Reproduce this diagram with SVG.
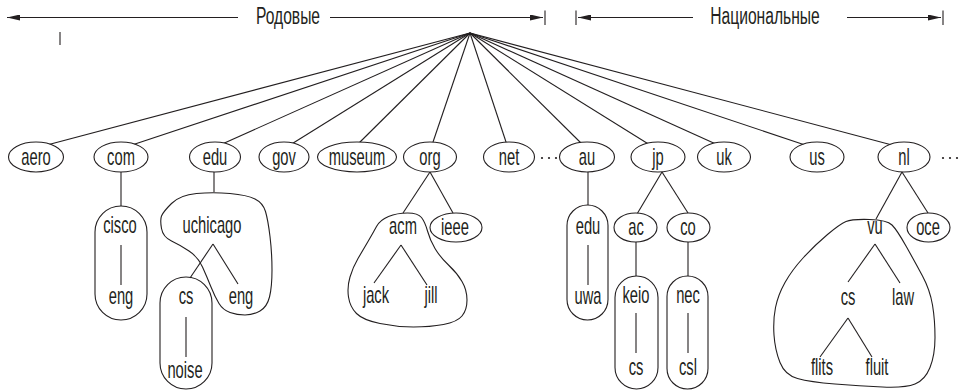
<svg xmlns="http://www.w3.org/2000/svg" width="960" height="391" viewBox="0 0 960 391">
<defs>
<style>
.ln{stroke:#231f20;stroke-width:1.1;fill:none}
.nd{fill:#fff;stroke:#231f20;stroke-width:1.1}
.bl{fill:none;stroke:#231f20;stroke-width:1.1}
.t{font-family:"Liberation Sans",Arial,sans-serif;font-size:23px;fill:#231f20;text-anchor:middle}
.dot{fill:#231f20}
</style>
<marker id="ah" viewBox="0 0 13 6" refX="13" refY="3" markerWidth="13" markerHeight="6" orient="auto" markerUnits="userSpaceOnUse"><path d="M0,0 L13,3 L0,6 z" fill="#231f20"/></marker>
</defs>
<rect width="960" height="391" fill="#fff"/>

<g id="header">
<line class="ln" x1="238" y1="17.5" x2="7" y2="17.5" marker-end="url(#ah)"/>
<text class="t" transform="translate(288,24) scale(0.68,1)">Родовые</text>
<line class="ln" x1="330" y1="17.5" x2="543" y2="17.5" marker-end="url(#ah)"/>
<line class="ln" x1="545" y1="10.5" x2="545" y2="25"/>
<line class="ln" x1="576" y1="10.5" x2="576" y2="25"/>
<line class="ln" x1="693" y1="17.5" x2="578" y2="17.5" marker-end="url(#ah)"/>
<text class="t" transform="translate(765,24) scale(0.68,1)">Национальные</text>
<line class="ln" x1="847" y1="17.5" x2="941" y2="17.5" marker-end="url(#ah)"/>
<line class="ln" x1="943" y1="10.5" x2="943" y2="25"/>
<line class="ln" x1="60" y1="32" x2="60" y2="45"/>
</g>

<g id="connectors">
<line class="ln" x1="470" y1="33" x2="47" y2="145"/>
<line class="ln" x1="470" y1="33" x2="132" y2="145"/>
<line class="ln" x1="470" y1="33" x2="220" y2="145"/>
<line class="ln" x1="470" y1="33" x2="290" y2="145"/>
<line class="ln" x1="470" y1="33" x2="357" y2="145"/>
<line class="ln" x1="470" y1="33" x2="432" y2="145"/>
<line class="ln" x1="470" y1="33" x2="507" y2="145"/>
<line class="ln" x1="470" y1="33" x2="583" y2="145"/>
<line class="ln" x1="470" y1="33" x2="650" y2="145"/>
<line class="ln" x1="470" y1="33" x2="718" y2="145"/>
<line class="ln" x1="470" y1="33" x2="805" y2="145"/>
<line class="ln" x1="470" y1="33" x2="892" y2="145"/>
<line class="ln" x1="121" y1="172" x2="121" y2="206"/>
<line class="ln" x1="121" y1="245" x2="121" y2="285"/>
<line class="ln" x1="214" y1="172" x2="214" y2="192"/>
<line class="ln" x1="213" y1="244" x2="190" y2="278"/>
<line class="ln" x1="213" y1="244" x2="238" y2="284"/>
<line class="ln" x1="186" y1="317" x2="186" y2="357"/>
<line class="ln" x1="430" y1="172" x2="403" y2="213"/>
<line class="ln" x1="430" y1="172" x2="453" y2="213"/>
<line class="ln" x1="401" y1="245" x2="374" y2="283"/>
<line class="ln" x1="401" y1="245" x2="427" y2="285"/>
<line class="ln" x1="588" y1="172" x2="588" y2="205"/>
<line class="ln" x1="588" y1="245" x2="588" y2="285"/>
<line class="ln" x1="662" y1="172" x2="637" y2="214"/>
<line class="ln" x1="662" y1="172" x2="688" y2="213"/>
<line class="ln" x1="636" y1="242" x2="636" y2="276"/>
<line class="ln" x1="636" y1="313" x2="636" y2="353"/>
<line class="ln" x1="688" y1="242" x2="688" y2="276"/>
<line class="ln" x1="688" y1="313" x2="688" y2="353"/>
<line class="ln" x1="902" y1="172" x2="876" y2="219"/>
<line class="ln" x1="902" y1="172" x2="928" y2="213"/>
<line class="ln" x1="875" y1="244" x2="848" y2="282"/>
<line class="ln" x1="875" y1="244" x2="900" y2="283"/>
<line class="ln" x1="848" y1="318" x2="820" y2="357"/>
<line class="ln" x1="848" y1="318" x2="872" y2="357"/>
</g>

<g id="n-aero"><ellipse class="nd" cx="36" cy="157" rx="27.5" ry="15"/><text class="t" transform="translate(36,165) scale(0.64,1)">aero</text></g>
<g id="n-com"><ellipse class="nd" cx="121" cy="157" rx="27" ry="15"/><text class="t" transform="translate(121,165) scale(0.64,1)">com</text></g>
<g id="n-edu"><ellipse class="nd" cx="215" cy="157" rx="25.5" ry="15"/><text class="t" transform="translate(215,165) scale(0.64,1)">edu</text></g>
<g id="n-gov"><ellipse class="nd" cx="284" cy="157" rx="25" ry="15"/><text class="t" transform="translate(284,165) scale(0.64,1)">gov</text></g>
<g id="n-museum"><ellipse class="nd" cx="357" cy="157" rx="39.5" ry="15"/><text class="t" transform="translate(357,165) scale(0.64,1)">museum</text></g>
<g id="n-org"><ellipse class="nd" cx="430" cy="157" rx="26.5" ry="15"/><text class="t" transform="translate(430,165) scale(0.64,1)">org</text></g>
<g id="n-net"><ellipse class="nd" cx="509" cy="157" rx="25.5" ry="15"/><text class="t" transform="translate(509,165) scale(0.64,1)">net</text></g>
<g id="dots1"><circle class="dot" cx="542" cy="158" r="1.1"/><circle class="dot" cx="549" cy="158" r="1.1"/><circle class="dot" cx="556" cy="158" r="1.1"/></g>
<g id="n-au"><ellipse class="nd" cx="587" cy="157" rx="27.5" ry="15"/><text class="t" transform="translate(587,165) scale(0.64,1)">au</text></g>
<g id="n-jp"><ellipse class="nd" cx="658" cy="157" rx="27" ry="15"/><text class="t" transform="translate(658,165) scale(0.64,1)">jp</text></g>
<g id="n-uk"><ellipse class="nd" cx="724" cy="157" rx="26.5" ry="15"/><text class="t" transform="translate(724,165) scale(0.64,1)">uk</text></g>
<g id="n-us"><ellipse class="nd" cx="817" cy="157" rx="27" ry="15"/><text class="t" transform="translate(817,165) scale(0.64,1)">us</text></g>
<g id="n-nl"><ellipse class="nd" cx="904" cy="157" rx="26" ry="15"/><text class="t" transform="translate(904,165) scale(0.64,1)">nl</text></g>
<g id="dots2"><circle class="dot" cx="943" cy="158" r="1.1"/><circle class="dot" cx="950" cy="158" r="1.1"/><circle class="dot" cx="957" cy="158" r="1.1"/></g>

<g id="n-cisco">
<rect class="bl" x="95" y="206" width="52" height="114" rx="26"/>
<text class="t" transform="translate(120,233) scale(0.64,1)">cisco</text>
<text class="t" transform="translate(121,304) scale(0.64,1)">eng</text>
</g>

<g id="n-uchicago">
<path class="bl" d="M171.5,203.5 Q180,195 196.5,193.5 Q213,192 230,193.5 Q247,195 255,199 Q263,203 265.5,211.5 Q268,220 270,236.5 Q272,253 272,270 Q272,287 269.5,297 Q267,307 260,311 Q253,315 245,315 Q237,315 230,312.5 Q223,310 219,303.5 Q215,297 211,287 Q207,277 202.5,267 Q198,257 189,251 Q180,245 171.5,241 Q163,237 161.5,228.5 Q160,220 161.5,216 Q163,212 171.5,203.5 Z"/>
<text class="t" transform="translate(212,233) scale(0.64,1)">uchicago</text>
<text class="t" transform="translate(241,304) scale(0.64,1)">eng</text>
</g>

<g id="n-cs-noise">
<rect class="bl" x="160" y="277" width="52" height="112" rx="26"/>
<text class="t" transform="translate(186,304) scale(0.64,1)">cs</text>
<text class="t" transform="translate(185,378) scale(0.64,1)">noise</text>
</g>

<g id="n-acm">
<path class="bl" d="M388.5,216.5 Q397,213 407.5,213 Q418,213 421.5,217.5 Q425,222 427.5,231 Q430,240 435,248.5 Q440,257 448.5,265 Q457,273 462,281.5 Q467,290 467,300 Q467,310 462,316 Q457,322 443.5,324.5 Q430,327 413.5,327 Q397,327 380,323.5 Q363,320 356.5,313.5 Q350,307 348.5,297 Q347,287 350,277 Q353,267 358,258.5 Q363,250 368,241.5 Q373,233 376.5,226.5 Q380,220 388.5,216.5 Z"/>
<text class="t" transform="translate(403,234) scale(0.64,1)">acm</text>
<text class="t" transform="translate(376,303) scale(0.64,1)">jack</text>
<text class="t" transform="translate(431,303) scale(0.64,1)">jill</text>
</g>

<g id="n-ieee"><ellipse class="nd" cx="456" cy="227.5" rx="26" ry="14.5"/><text class="t" transform="translate(455,235) scale(0.64,1)">ieee</text></g>

<g id="n-au-edu">
<rect class="bl" x="567" y="205" width="41" height="115" rx="20.5"/>
<text class="t" transform="translate(588,234) scale(0.64,1)">edu</text>
<text class="t" transform="translate(588,304) scale(0.64,1)">uwa</text>
</g>

<g id="n-ac"><ellipse class="nd" cx="635.5" cy="227.5" rx="21.5" ry="14.5"/><text class="t" transform="translate(636,235) scale(0.64,1)">ac</text></g>
<g id="n-co"><ellipse class="nd" cx="688.5" cy="227.5" rx="21.5" ry="14.5"/><text class="t" transform="translate(688,235) scale(0.64,1)">co</text></g>

<g id="n-keio">
<rect class="bl" x="615" y="276" width="43" height="113" rx="21.5"/>
<text class="t" transform="translate(636,303) scale(0.64,1)">keio</text>
<text class="t" transform="translate(636,375) scale(0.64,1)">cs</text>
</g>

<g id="n-nec">
<rect class="bl" x="667" y="276" width="41" height="113" rx="20.5"/>
<text class="t" transform="translate(688,303) scale(0.64,1)">nec</text>
<text class="t" transform="translate(688,375) scale(0.64,1)">csl</text>
</g>

<g id="n-vu">
<path class="bl" d="M869.5,219.5 Q887,220 892,225 Q897,230 906,246 Q915,262 922.5,276 Q930,290 932.5,305 Q935,320 935,337.5 Q935,355 930,367.5 Q925,380 915,384 Q905,388 882.5,387 Q860,386 835,384 Q810,382 797.5,378.5 Q785,375 780,362.5 Q775,350 774,335 Q773,320 775.5,307.5 Q778,295 785,282.5 Q792,270 803.5,257.5 Q815,245 827.5,234.5 Q840,224 846,221.5 Q852,219 869.5,219.5 Z"/>
<text class="t" transform="translate(875,234) scale(0.64,1)">vu</text>
<text class="t" transform="translate(848,305) scale(0.64,1)">cs</text>
<text class="t" transform="translate(903,305) scale(0.64,1)">law</text>
<text class="t" transform="translate(822,375) scale(0.64,1)">flits</text>
<text class="t" transform="translate(877,375) scale(0.64,1)">fluit</text>
</g>

<g id="n-oce"><ellipse class="nd" cx="928.5" cy="227.5" rx="21.5" ry="14.5"/><text class="t" transform="translate(928,235) scale(0.64,1)">oce</text></g>
</svg>
